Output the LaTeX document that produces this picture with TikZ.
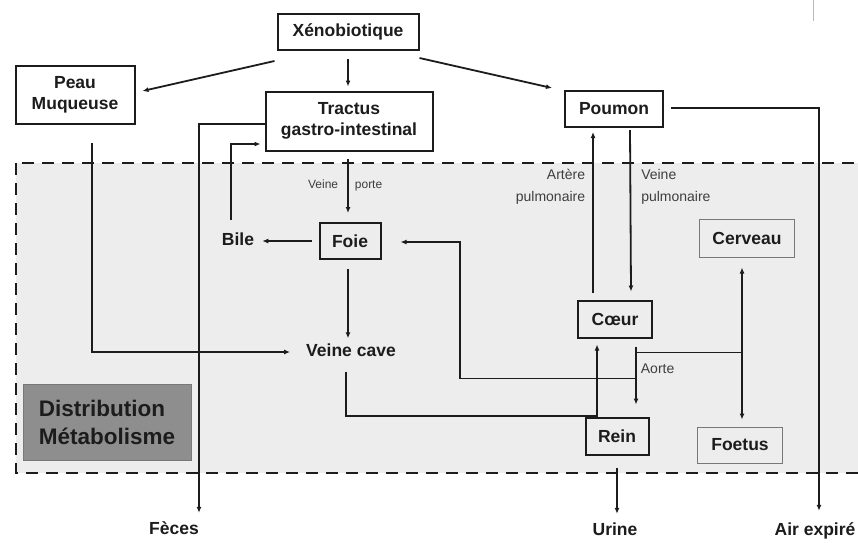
\documentclass[tikz,border=0pt]{standalone}
\usepackage{fontspec}
\setmainfont{Liberation Sans}
\usepackage{xcolor}
\definecolor{ink}{RGB}{28,28,28}
\definecolor{zone}{RGB}{237,237,237}
\definecolor{slate}{RGB}{142,142,142}
\definecolor{rim}{RGB}{120,120,120}
\usepackage{tikz}
\usetikzlibrary{arrows.meta, positioning, calc}
\newcommand{\organfont}{\fontsize{17.5}{21}\selectfont\bfseries}
\newcommand{\notefont}{\fontsize{14}{22}\selectfont}
\newcommand{\portefont}{\fontsize{12}{14}\selectfont}
\newcommand{\stagefont}{\fontsize{22.5}{28}\selectfont\bfseries}

\begin{document}
\begin{tikzpicture}[x=1pt, y=-1pt,
        organ/.style={rectangle, draw=ink, line width=2pt, align=center, font=\organfont, text=ink, inner sep=2pt},
        faint/.style={rectangle, draw=rim, line width=1pt, align=center, font=\organfont, text=ink, inner sep=2pt},
        tag/.style={font=\organfont, text=ink, inner sep=2pt, text height=13pt, text depth=4pt},
        note/.style={font=\notefont, text=ink!85, inner sep=1pt},
        vp/.style={font=\portefont, text=ink!85, inner sep=1pt, text height=9pt, text depth=3pt},
        stage/.style={rectangle, draw=rim, line width=1pt, fill=slate, align=left, font=\stagefont, text=ink},
        flow/.style={-{Latex[length=6pt,width=5pt]}, line width=1.8pt, ink},
        zonebox/.style={draw=ink, fill=zone, line width=2.8pt, dash pattern=on 12pt off 8pt}
    ]
        \useasboundingbox (0,0) rectangle (858,542);
        \fill[white] (0,0) rectangle (858,542);
        \draw[zonebox] (16,163) rectangle (885,473);
        \draw[gray!55, line width=0.8pt] (813,0) -- (813,21);

        \node[organ, fill=white, minimum width=141, minimum height=36] (xeno) at (348,32) {Xénobiotique};
        \node[organ, fill=white, minimum width=119, minimum height=58] (peau) at (75,95) {Peau\\Muqueuse};
        \node[organ, fill=white, minimum width=167, minimum height=59] (tractus) at (349,121) {Tractus\\gastro-intestinal};
        \node[organ, fill=white, minimum width=98, minimum height=36] (poumon) at (614,109) {Poumon};

        \node[organ, minimum width=61, minimum height=36] (foie) at (350,241) {Foie};
        \node[organ, minimum width=74, minimum height=37] (coeur) at (615,319) {Cœur};
        \node[organ, minimum width=63, minimum height=37] (rein) at (617,436) {Rein};
        \node[faint, minimum width=95, minimum height=38] (cerveau) at (747,238) {Cerveau};
        \node[faint, minimum width=85, minimum height=36] (foetus) at (740,445) {Foetus};
        \node[stage, minimum width=168, minimum height=76] (stage) at (107,422) {Distribution\\Métabolisme};

        \node[tag] (bile) at (238,241) {Bile};
        \node[tag] (veinecave) at (351,352) {Veine cave};
        \node[tag] (feces) at (174,530) {Fèces};
        \node[tag] (urine) at (615,531) {Urine};
        \node[tag] (airexp) at (815,531) {Air expiré};

        \coordinate (aortetop) at ([shift={(21,14)}]coeur.south);
        \coordinate (aortelow) at ([shift={(21,40)}]coeur.south);

        % entrees
        \draw[flow] ([shift={(-2,10)}]xeno.south west) -- ([shift={(7,-4)}]peau.east);
        \draw[flow] ([shift={(0,8)}]xeno.south) -- ([shift={(-1,-4)}]tractus.north);
        \draw[flow] ([shift={(0,7)}]xeno.south east) -- ([shift={(-12,-2)}]poumon.north west);

        \draw[flow] ([shift={(17,18)}]peau.south) |- ([shift={(-14,0)}]veinecave.west);
        \draw[flow] ([shift={(0,3)}]tractus.west) -| ([shift={(25,-6.5)}]feces.north);
        \draw[flow] ([shift={(-7,-10)}]bile.north) |- ([shift={(-4,23)}]tractus.west);
        \draw[flow] ([shift={(-1,7)}]tractus.south) -- ([shift={(-2,-9)}]foie.north)
            node[vp, pos=0.5, left=8pt] {Veine} node[vp, pos=0.5, right=5pt] {porte};

        % foie
        \draw[flow] ([shift={(-7,0)}]foie.west) -- ([shift={(6,0)}]bile.east);
        \draw[flow] ([shift={(-2,9)}]foie.south) -- ([shift={(-3,-3)}]veinecave.north);
        \draw[flow] ([shift={(-5,9)}]veinecave.south) -- ++(0,44) -| ([shift={(-18,6)}]coeur.south);

        % coeur et poumon
        \draw[flow] ([shift={(-22,-7)}]coeur.north) -- ([shift={(-21,4)}]poumon.south)
            node[note, pos=0.66, left=6pt, align=right] {Artère\\pulmonaire};
        \draw[flow] ([shift={(16,2)}]poumon.south) -- ([shift={(16,-8)}]coeur.north)
            node[note, pos=0.35, right=9pt, align=left] {Veine\\pulmonaire};
        \draw[flow] ([shift={(7,-1)}]poumon.east) -| ([shift={(4,-9.5)}]airexp.north);

        % aorte
        \draw[flow] ([shift={(21,8)}]coeur.south) -- ([shift={(19,-12)}]rein.north)
            node[note, pos=0.39, right=3pt] {Aorte};
        \draw[flow] (aortetop) -| ([shift={(-5,10)}]cerveau.south);
        \draw[flow] (aortetop) -| ([shift={(2,-7)}]foetus.north);
        \draw[flow] (aortelow) -- ++(-176,0) |- ([shift={(19,1)}]foie.east);
        \draw[flow] ([shift={(0,12)}]rein.south) -- ([shift={(2,-6.5)}]urine.north);
    \end{tikzpicture}
\end{document}
